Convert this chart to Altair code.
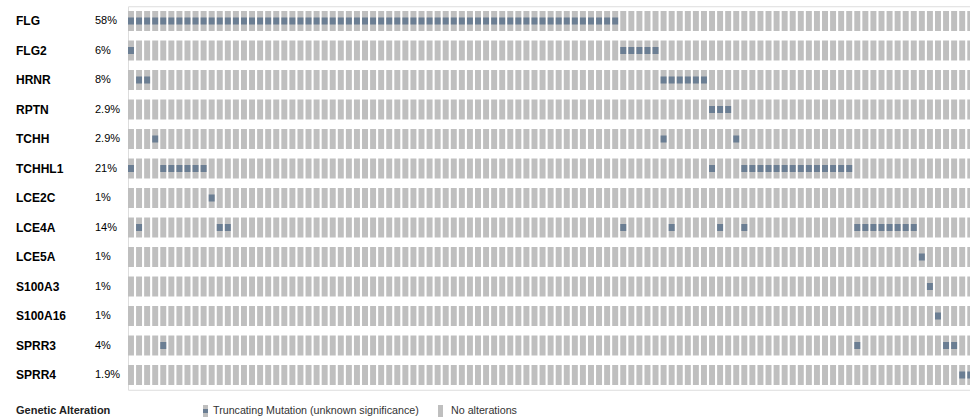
import altair as alt
import pandas as pd

# Genes in display order and their altered-sample percentages
genes = ["FLG", "FLG2", "HRNR", "RPTN", "TCHH", "TCHHL1", "LCE2C",
         "LCE4A", "LCE5A", "S100A3", "S100A16", "SPRR3", "SPRR4"]
pct_labels = ["58%", "6%", "8%", "2.9%", "2.9%", "21%", "1%",
              "14%", "1%", "1%", "1%", "4%", "1.9%"]

n_samples = 105

# Truncating mutations per gene, as inclusive runs of sample columns
mut_runs = {
    "FLG":     [(0, 60)],
    "FLG2":    [(0, 0), (61, 65)],
    "HRNR":    [(1, 2), (66, 71)],
    "RPTN":    [(72, 74)],
    "TCHH":    [(3, 3), (66, 66), (75, 75)],
    "TCHHL1":  [(0, 0), (4, 9), (72, 72), (76, 89)],
    "LCE2C":   [(10, 10)],
    "LCE4A":   [(1, 1), (11, 12), (61, 61), (67, 67), (73, 73), (76, 76), (90, 97)],
    "LCE5A":   [(98, 98)],
    "S100A3":  [(99, 99)],
    "S100A16": [(100, 100)],
    "SPRR3":   [(4, 4), (90, 90), (101, 102)],
    "SPRR4":   [(103, 104)],
}

legend_title = "Genetic Alteration"
legend_mut = "Truncating Mutation (unknown significance)"
legend_none = "No alterations"

GRAY = "#bfbfbf"
MUT = "#6b7e93"
FONT = "Liberation Sans"

grid = pd.DataFrame(
    [{"gene": g, "sample": s} for g in genes for s in range(n_samples)]
)
muts = pd.DataFrame(
    [{"gene": g, "sample": s}
     for g in genes for a, b in mut_runs[g] for s in range(a, b + 1)]
)
labels = pd.DataFrame({"gene": genes, "pct": pct_labels})

W, H = 842, 383.5
x_scale = alt.Scale(domain=[0, W / 8.07], nice=False, zero=False)
y_enc = alt.Y("gene:N", sort=genes, axis=None,
              scale=alt.Scale(paddingInner=0, paddingOuter=0))

cells = alt.Chart(grid).transform_calculate(
    s2="datum.sample + 0.74"
).mark_bar(color=GRAY, size=20, clip=True).encode(
    x=alt.X("sample:Q", scale=x_scale, axis=None),
    x2="s2:Q",
    y=y_enc,
)

mut_cells = alt.Chart(muts).transform_calculate(
    s2="datum.sample + 0.74"
).mark_bar(color=MUT, size=7, clip=True).encode(
    x=alt.X("sample:Q", scale=x_scale, axis=None),
    x2="s2:Q",
    y=y_enc,
)

gene_text = alt.Chart(labels).mark_text(
    align="left", baseline="middle", font=FONT, fontSize=12,
    fontWeight="bold", color="#000000"
).encode(x=alt.value(-112), y=y_enc, text="gene:N")

pct_text = alt.Chart(labels).mark_text(
    align="left", baseline="middle", font=FONT, fontSize=11,
    color="#000000"
).encode(x=alt.value(-33), y=y_enc, text="pct:N")

# Legend row below the grid
one = pd.DataFrame({"k": [0]})
LY = 404.75
leg_title = alt.Chart(one).mark_text(
    align="left", baseline="middle", font=FONT, fontSize=11,
    fontWeight="bold", color="#222222", text=legend_title
).encode(x=alt.value(-112), y=alt.value(LY))

leg_mut_bar = alt.Chart(one).mark_rect(color=GRAY).encode(
    x=alt.value(75), x2=alt.value(80), y=alt.value(LY - 6), y2=alt.value(LY + 6))
leg_mut_sq = alt.Chart(one).mark_rect(color=MUT).encode(
    x=alt.value(75), x2=alt.value(80), y=alt.value(LY - 2), y2=alt.value(LY + 2))
leg_mut_text = alt.Chart(one).mark_text(
    align="left", baseline="middle", font=FONT, fontSize=10.7,
    color="#333333", text=legend_mut
).encode(x=alt.value(85), y=alt.value(LY))

leg_none_bar = alt.Chart(one).mark_rect(color=GRAY).encode(
    x=alt.value(310), x2=alt.value(315), y=alt.value(LY - 6), y2=alt.value(LY + 6))
leg_none_text = alt.Chart(one).mark_text(
    align="left", baseline="middle", font=FONT, fontSize=10.7,
    color="#333333", text=legend_none
).encode(x=alt.value(323), y=alt.value(LY))

chart = alt.layer(
    cells, mut_cells, gene_text, pct_text,
    leg_title, leg_mut_bar, leg_mut_sq, leg_mut_text, leg_none_bar, leg_none_text
).properties(
    width=W, height=H,
    autosize=alt.AutoSizeParams(type="none"),
    padding={"left": 128, "top": 6.25, "right": 0, "bottom": 30.25},
).configure_view(strokeWidth=0).configure(background="white")

chart.save("out.html", embed_options={"renderer": "svg", "actions": False})
